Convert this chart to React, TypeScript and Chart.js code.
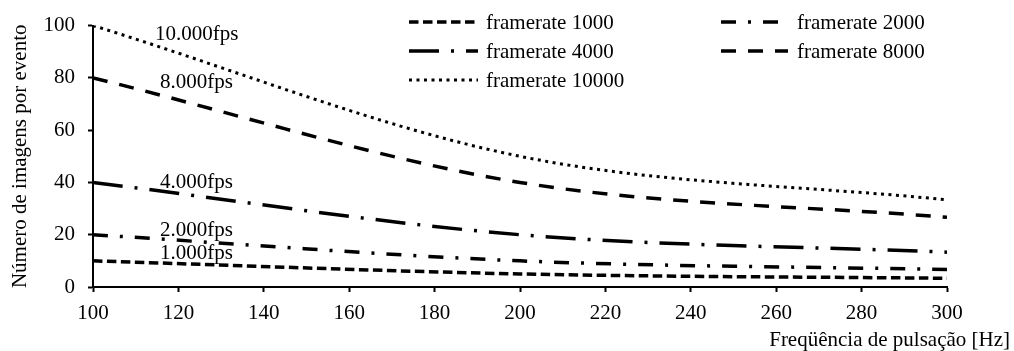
import React, { useEffect, useRef } from "react";
import { Chart, registerables } from "chart.js";

Chart.register(...registerables);

const frequencies = [100, 200, 300];
const fps1000 = [10, 5, 3.33];
const fps2000 = [20, 10, 6.67];
const fps4000 = [40, 20, 13.33];
const fps8000 = [80, 40, 26.67];
const fps10000 = [100, 50, 33.33];

const seriesNames = ["framerate 1000", "framerate 2000", "framerate 4000", "framerate 8000", "framerate 10000"];
const curveLabels = ["1.000fps", "2.000fps", "4.000fps", "8.000fps", "10.000fps"];
const curveLabelX = [115.7, 115.7, 115.7, 115.7, 114.5];
const curveLabelY = [10.6, 19.4, 38.0, 76.0, 94.3];

const xTitle = "Freqüência de pulsação [Hz]";
const yTitle = "Número de imagens por evento";

const FONT = "'Liberation Serif', 'Times New Roman', serif";
const FS = 21;

const dashes: number[][] = [
  [9.5, 4.5],
  [15, 12, 3, 12],
  [30, 12, 3, 12],
  [15, 12],
  [3, 4.5],
];
const widths = [3.5, 3.5, 3.5, 3.5, 3];

// legend placement: [sampleStart, sampleEnd, textX, centerY]
const legendPos = [
  [409, 478, 486, 22],
  [721, 788, 797, 22],
  [409, 478, 486, 51],
  [721, 788, 797, 51],
  [409, 478, 486, 80],
];

const overlayPlugin = {
  id: "overlay",
  afterDraw(chart: any) {
    const ctx = chart.ctx;
    const xs = chart.scales.x;
    const ys = chart.scales.y;
    ctx.save();
    ctx.fillStyle = "#000";
    ctx.strokeStyle = "#000";
    ctx.font = `${FS}px ${FONT}`;
    // legend
    chart.data.datasets.forEach((ds: any, i: number) => {
      const [a, b, tx, cy] = legendPos[i];
      ctx.save();
      ctx.lineWidth = ds.borderWidth;
      ctx.setLineDash(ds.borderDash);
      ctx.beginPath();
      ctx.moveTo(a, cy);
      ctx.lineTo(b, cy);
      ctx.stroke();
      ctx.restore();
      ctx.textAlign = "left";
      ctx.textBaseline = "middle";
      ctx.fillText(ds.label, tx, cy + 1);
    });
    // curve labels
    ctx.textAlign = "left";
    ctx.textBaseline = "alphabetic";
    curveLabels.forEach((t, i) => {
      ctx.fillText(t, xs.getPixelForValue(curveLabelX[i]), ys.getPixelForValue(curveLabelY[i]));
    });
    // x title
    ctx.textAlign = "right";
    ctx.fillText(xTitle, 1010, 346);
    // y title
    ctx.save();
    ctx.translate(20, (chart.chartArea.top + chart.chartArea.bottom) / 2);
    ctx.rotate(-Math.PI / 2);
    ctx.textAlign = "center";
    ctx.textBaseline = "middle";
    ctx.fillText(yTitle, 0, 0);
    ctx.restore();
    ctx.restore();
  },
};

export default function App() {
  const ref = useRef<HTMLCanvasElement | null>(null);
  useEffect(() => {
    if (!ref.current) return;
    const series = [fps1000, fps2000, fps4000, fps8000, fps10000];
    const chart = new Chart(ref.current, {
      type: "line",
      data: {
        datasets: series.map((vals, i) => ({
          label: seriesNames[i],
          data: vals.map((v, j) => ({ x: frequencies[j], y: v })),
          borderColor: "#000",
          backgroundColor: "#000",
          borderWidth: widths[i],
          borderDash: dashes[i],
          pointRadius: 0,
          fill: false,
          tension: 0.33,
        })),
      },
      options: {
        responsive: false,
        animation: false,
        layout: { padding: { top: 24, right: 67, left: 0, bottom: 0 } },
        plugins: { legend: { display: false }, tooltip: { enabled: false } },
        scales: {
          x: {
            type: "linear",
            min: 100,
            max: 300,
            ticks: { stepSize: 20, color: "#000", font: { family: FONT, size: FS }, padding: 9 },
            grid: { drawOnChartArea: false, tickLength: 5, tickColor: "#000", tickWidth: 2 },
            border: { color: "#000", width: 2 },
            afterFit: (s: any) => {
              s.height = 64;
            },
          },
          y: {
            min: 0,
            max: 100,
            ticks: { stepSize: 20, color: "#000", font: { family: FONT, size: FS }, padding: 13 },
            grid: { drawOnChartArea: false, tickLength: 5, tickColor: "#000", tickWidth: 2 },
            border: { color: "#000", width: 2 },
            afterFit: (s: any) => {
              s.width = 93;
            },
          },
        },
      } as any,
      plugins: [overlayPlugin],
    });
    return () => chart.destroy();
  }, []);
  return (
    <div style={{ position: "fixed", left: 0, top: 0, width: 1014, height: 351, background: "#fff" }}>
      <canvas ref={ref} width={1014} height={351} style={{ display: "block" }} />
    </div>
  );
}
